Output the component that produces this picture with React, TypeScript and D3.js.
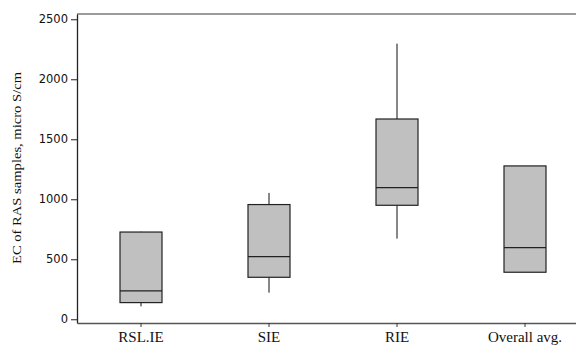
import React, { useEffect, useRef } from 'react';
import * as d3 from 'd3';

// values
const categories = ['RSL.IE', 'SIE', 'RIE', 'Overall avg.'];
const whiskerLow = [108, 222, 672, 392];
const q1 = [139, 350, 950, 392];
const median = [236, 522, 1097, 597];
const q3 = [727, 956, 1669, 1278];
const whiskerHigh = [730, 1053, 2297, 1278];
const yTicks = [0, 500, 1000, 1500, 2000, 2500];

const App = () => {
    const svgRef = useRef<SVGSVGElement>(null);

    useEffect(() => {
        const svg = d3.select(svgRef.current);
        svg.selectAll('*').remove();

        const left = 77, right = 589, top = 14, bottom = 323;

        const x = d3.scaleBand()
            .domain(categories)
            .range([left, right])
            .padding(0);

        const y = d3.scaleLinear()
            .domain([-31, 2544])
            .range([bottom, top]);

        const boxes = categories.map((c, i) => ({
            cat: c, lo: whiskerLow[i], q1: q1[i], med: median[i], q3: q3[i], hi: whiskerHigh[i]
        }));

        // top frame line
        svg.append('line')
            .attr('x1', left).attr('x2', 576)
            .attr('y1', top).attr('y2', top)
            .attr('stroke', '#7a7a7a')
            .attr('stroke-width', 1.3);

        // y axis
        const yAxis = svg.append('g')
            .attr('transform', `translate(${left},0)`)
            .call(d3.axisLeft(y).tickValues(yTicks).tickFormat(d3.format('d')).tickSize(6).tickSizeOuter(0));
        yAxis.select('.domain').attr('stroke', '#222').attr('stroke-width', 1.3);
        yAxis.selectAll('line').attr('stroke', '#222');
        yAxis.selectAll('text')
            .attr('font-family', 'DejaVu Sans, Verdana, sans-serif')
            .attr('font-size', 11.5)
            .attr('fill', '#111')
            .attr('x', -9);

        // x axis
        const xAxis = svg.append('g')
            .attr('transform', `translate(0,${bottom})`)
            .call(d3.axisBottom(x).tickSize(4).tickSizeOuter(0));
        xAxis.select('.domain').attr('stroke', '#555').attr('stroke-width', 1.3);
        xAxis.selectAll('line').attr('stroke', '#333');
        xAxis.selectAll('text')
            .attr('font-family', 'Liberation Serif, Times New Roman, serif')
            .attr('font-size', 15)
            .attr('fill', '#111')
            .attr('dy', 0)
            .attr('y', 19);

        const cx = (d) => x(d.cat)! + x.bandwidth() / 2;
        const half = 21;

        const g = svg.append('g').selectAll('g')
            .data(boxes)
            .enter().append('g');

        // whiskers
        g.append('line')
            .attr('x1', cx).attr('x2', cx)
            .attr('y1', d => y(d.hi)).attr('y2', d => y(d.q3))
            .attr('stroke', '#111');
        g.append('line')
            .attr('x1', cx).attr('x2', cx)
            .attr('y1', d => y(d.q1)).attr('y2', d => y(d.lo))
            .attr('stroke', '#111');

        // boxes
        g.append('rect')
            .attr('x', d => cx(d) - half)
            .attr('width', half * 2)
            .attr('y', d => y(d.q3))
            .attr('height', d => y(d.q1) - y(d.q3))
            .attr('fill', '#c0c0c0')
            .attr('stroke', '#222')
            .attr('stroke-width', 1.2);

        // medians
        g.append('line')
            .attr('x1', d => cx(d) - half).attr('x2', d => cx(d) + half)
            .attr('y1', d => y(d.med)).attr('y2', d => y(d.med))
            .attr('stroke', '#222')
            .attr('stroke-width', 1.2);

        // y label
        svg.append('text')
            .attr('transform', `translate(21,${168}) rotate(-90)`)
            .attr('text-anchor', 'middle')
            .attr('font-family', 'Liberation Serif, Times New Roman, serif')
            .attr('font-size', 13)
            .attr('textLength', 192)
            .attr('lengthAdjust', 'spacingAndGlyphs')
            .attr('fill', '#111')
            .text('EC of RAS samples, micro S/cm');
    }, []);

    return (
        <svg
            ref={svgRef}
            width={576}
            height={345}
            style={{ position: 'absolute', left: 0, top: 0, background: '#fff' }}
        />
    );
};

export default App;
